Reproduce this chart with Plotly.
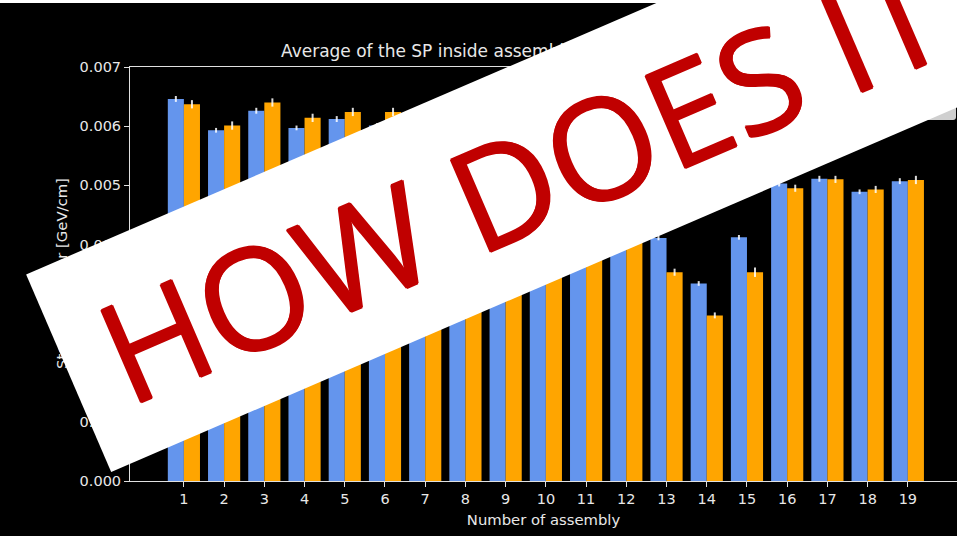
import math
import plotly.graph_objects as go

# Assembly numbers and mean stopping power per assembly (GeV/cm)
assemblies = list(range(1, 20))
sp_sample_1 = [0.00646, 0.00593, 0.00626, 0.00597, 0.00612, 0.00601, 0.00585,
               0.00560, 0.00540, 0.00520, 0.00490, 0.00460, 0.00411, 0.00334,
               0.00412, 0.00503, 0.00511, 0.00489, 0.00507]
sp_sample_2 = [0.00637, 0.00601, 0.00640, 0.00614, 0.00624, 0.00624, 0.00595,
               0.00570, 0.00550, 0.00530, 0.00500, 0.00470, 0.00353, 0.00280,
               0.00353, 0.00495, 0.00510, 0.00493, 0.00509]
err_sample_1 = [0.00005, 0.00004, 0.00005, 0.00004, 0.00005, 0.00004, 0.00005,
                0.00005, 0.00005, 0.00005, 0.00005, 0.00005, 0.00004, 0.00004,
                0.00004, 0.00005, 0.00005, 0.00004, 0.00005]
err_sample_2 = [0.00007, 0.00007, 0.00007, 0.00007, 0.00007, 0.00007, 0.00007,
                0.00007, 0.00007, 0.00007, 0.00007, 0.00007, 0.00006, 0.00005,
                0.00008, 0.00006, 0.00006, 0.00006, 0.00007]
y_ticks = [0.000, 0.001, 0.002, 0.003, 0.004, 0.005, 0.006, 0.007]

W, H = 957, 536
ML, MR, MT, MB = 130, 0, 67, 55
PW, PH = W - ML - MR, H - MT - MB


def px(x):
    return (x - ML) / PW


def py(y):
    return (H - MB - y) / PH


FONT = "DejaVu Sans"
TXT = "#e8e8e8"
LINE = "#e0e0e0"
RED = "#C00000"

fig = go.Figure()
fig.add_trace(go.Bar(
    x=assemblies, y=sp_sample_1, width=0.4, offset=-0.4,
    marker=dict(color="#6495ED", line=dict(width=0)),
    error_y=dict(type="data", array=err_sample_1, color="rgba(255,255,255,0.85)",
                 thickness=2, width=0),
    name="Sample 1",
))
fig.add_trace(go.Bar(
    x=assemblies, y=sp_sample_2, width=0.4, offset=0.0,
    marker=dict(color="#FFA500", line=dict(width=0)),
    error_y=dict(type="data", array=err_sample_2, color="rgba(255,255,255,0.85)",
                 thickness=2, width=0),
    name="Sample 2",
))

fig.update_layout(
    width=W, height=H,
    margin=dict(l=ML, r=MR, t=MT, b=MB, pad=0),
    paper_bgcolor="black", plot_bgcolor="black",
    showlegend=False,
    font=dict(family=FONT, color=TXT, size=14),
    xaxis=dict(
        range=[-0.34, -0.34 + PW / 40.22],
        tickmode="array", tickvals=assemblies,
        ticktext=[str(a) for a in assemblies],
        ticks="outside", ticklen=5, tickwidth=1, tickcolor=LINE,
        showline=True, linecolor=LINE, linewidth=1, mirror=True,
        showgrid=False, zeroline=False,
        tickfont=dict(size=14.5, color=TXT),
        title=dict(text="Number of assembly", font=dict(size=14.8, color=TXT), standoff=8),
    ),
    yaxis=dict(
        range=[0, 0.007],
        tickmode="array", tickvals=y_ticks,
        ticktext=[f"{v:.3f}" for v in y_ticks],
        ticks="outside", ticklen=5, tickwidth=1, tickcolor=LINE,
        showline=True, linecolor=LINE, linewidth=1, mirror=False,
        showgrid=False, zeroline=False,
        tickfont=dict(size=14.5, color=TXT),
    ),
)

shapes = []
# thin white strip along the top edge of the page
shapes.append(dict(type="rect", xref="paper", yref="paper",
                   x0=px(0), x1=px(W), y0=py(0), y1=py(3),
                   fillcolor="white", line=dict(width=0), layer="above"))
# legend frame corner in the upper right
path = (f"M {px(780)},{py(30)} L {px(956)},{py(30)} L {px(956)},{py(117)} "
        f"Q {px(956)},{py(120)} {px(953)},{py(120)} L {px(780)},{py(120)} Z")
shapes.append(dict(type="path", xref="paper", yref="paper", path=path,
                   fillcolor="#cfcfcf", line=dict(width=0), layer="above"))
fig.update_layout(shapes=shapes)

# plot title and y-axis title (drawn first so the banner lies over them)
fig.add_annotation(
    x=px(279), y=py(51), xref="paper", yref="paper",
    xanchor="left", yanchor="middle", showarrow=False,
    text="Average of the SP inside assembly for the two data samples",
    font=dict(size=17, color=TXT, family=FONT),
)
fig.add_annotation(
    x=px(61), y=py(274), xref="paper", yref="paper",
    xanchor="center", yanchor="middle", showarrow=False,
    text="Stopping power [GeV/cm]", textangle=-90,
    font=dict(size=14.8, color=TXT, family=FONT),
)

# tilted white banner with red lettering
ANG = 23.3
ux, uy = math.cos(math.radians(ANG)), -math.sin(math.radians(ANG))
nx, ny = -uy, ux
thick, length = 214.5, 1000
ul = (26, 275)
lr = (ul[0] + length * ux + thick * nx, ul[1] + length * uy + thick * ny)
cx, cy = (ul[0] + lr[0]) / 2, (ul[1] + lr[1]) / 2
fig.add_annotation(
    x=px(cx), y=py(cy), xref="paper", yref="paper",
    xanchor="center", yanchor="middle", showarrow=False,
    text="&nbsp;", textangle=-ANG, width=length, height=thick,
    bgcolor="white", borderpad=0, borderwidth=0,
    font=dict(size=10, color="white"),
)
fig.add_annotation(
    x=px(521), y=py(179), xref="paper", yref="paper",
    xanchor="center", yanchor="middle", showarrow=False,
    text="HOW DOES IT", textangle=-ANG,
    font=dict(size=141, color=RED, family="Open Sans",
              shadow=f"1px 0 0 {RED}, -1px 0 0 {RED}, 0 1px 0 {RED}, 0 -1px 0 {RED}"),
)

fig.write_html("out.html")
